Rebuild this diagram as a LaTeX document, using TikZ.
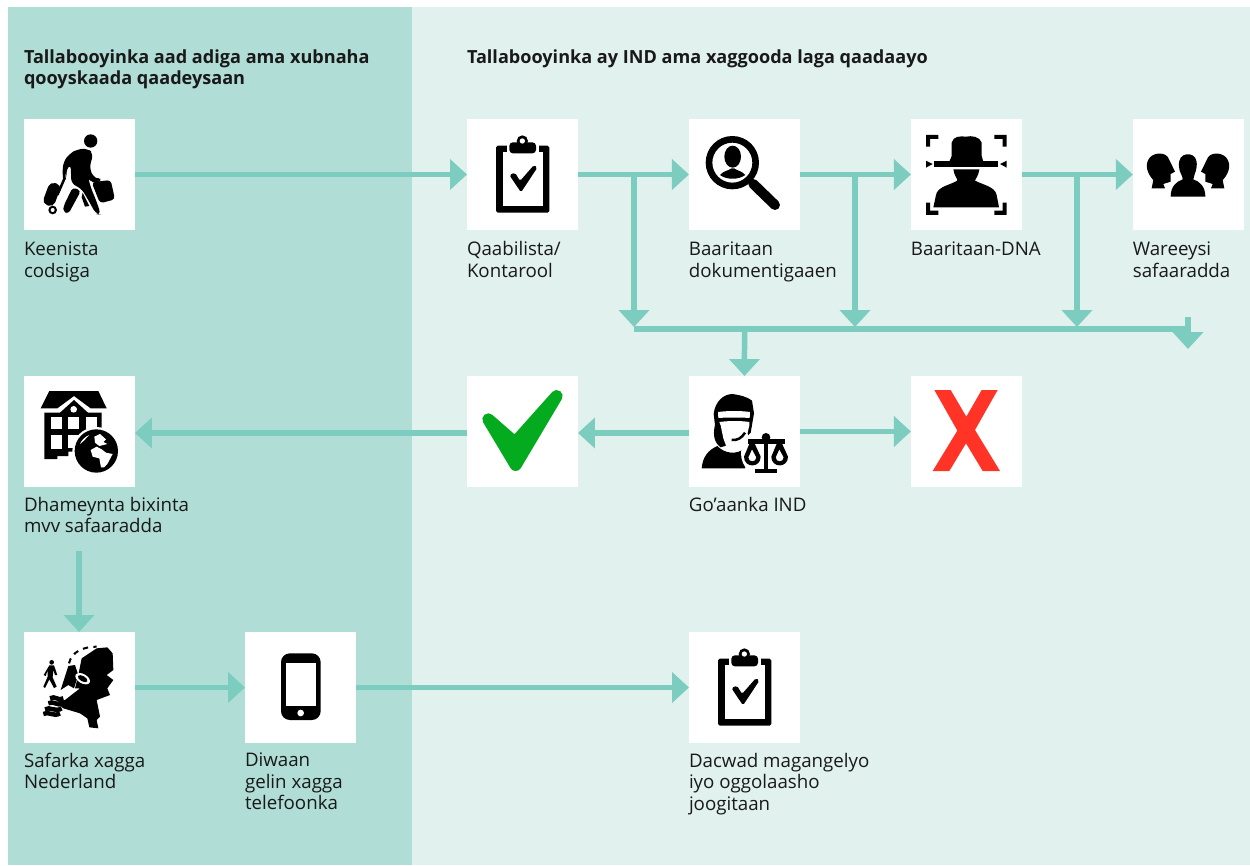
\documentclass[tikz,border=0pt]{standalone}
\usepackage{fontspec}
\setmainfont{Open Sans}
\usetikzlibrary{arrows.meta,positioning}

\definecolor{darkpanel}{HTML}{B0DDD5}
\definecolor{lightpanel}{HTML}{E1F1ED}
\definecolor{flowline}{HTML}{7CCDBF}
\definecolor{okgreen}{HTML}{04AB1E}
\definecolor{nored}{HTML}{FF3427}

\tikzset{
  iconbox/.style={fill=white, inner sep=0, outer sep=0, minimum size=2.22cm},
  steptext/.style={inner sep=0, outer sep=0, align=left, font=\fontsize{10.65}{12.3}\selectfont, text=black!90},
  headtext/.style={inner sep=0, outer sep=0, align=left, font=\fontsize{10.3}{11.9}\selectfont\bfseries, text=black!90},
  flow/.style={draw=flowline, line width=0.11cm, -{Triangle[length=0.34cm,width=0.6cm]}},
  flowbar/.style={draw=flowline, line width=0.11cm}
}

\newcommand{\clipboardicon}[2]{%
  \begin{scope}[shift={(#1,#2)},scale=1/3]
    \fill[rounded corners=1pt] (108,137) rectangle (268,338);
    \fill[white] (140,128) rectangle (236,157);
    \fill[white] (128,157) rectangle (248,317);
    \fill[rounded corners=2pt] (148,127) rectangle (228,160);
    \fill (187,123) circle (17);
    \fill[white] (187,123) circle (8);
    \fill[rounded corners=1pt] (148,225) -- (165,218) -- (180,243) -- (222,195) -- (232,203) -- (183,277) -- cycle;
  \end{scope}}

\begin{document}
\begin{tikzpicture}[x=0.02cm, y=-0.02cm, node distance=2.22cm]
    \useasboundingbox (0,0) rectangle (1250,865);
    \fill[darkpanel] (8,7) rectangle (412,865);
    \fill[lightpanel] (412,7) rectangle (1250,865);

    % boxes, row by row
    \node[iconbox, anchor=north west] (keenista) at (24,119) {};
    \node[iconbox, anchor=north west] (qaabilista) at (467,119) {};
    \node[iconbox] (baaritaan) [right=of qaabilista] {};
    \node[iconbox] (dna) [right=of baaritaan] {};
    \node[iconbox] (wareeysi) [right=of dna] {};

    \node[iconbox, anchor=north west] (dhameynta) at (24,376) {};
    \node[iconbox, anchor=north west] (haa) at (467,376) {};
    \node[iconbox] (goaanka) [right=of haa] {};
    \node[iconbox] (maya) [right=of goaanka] {};

    \node[iconbox, anchor=north west] (safarka) at (24,632) {};
    \node[iconbox, anchor=north west] (diwaan) at (245,632) {};
    \node[iconbox, anchor=north west] (dacwad) at (689,632) {};

    % texts
    \node[headtext, anchor=north west] (headleft) at (24,49.5) {Tallabooyinka aad adiga ama xubnaha\\qooyskaada qaadeysaan};
    \node[headtext, anchor=north west] (headright) at (467,49.5) {Tallabooyinka ay IND ama xaggooda laga qaadaayo};

    \node[steptext] (tkeenista) [below right=0.235cm and 0cm of keenista.south west] {Keenista\\codsiga};
    \node[steptext] (tqaabilista) [below right=0.235cm and 0cm of qaabilista.south west] {Qaabilista/\\Kontarool};
    \node[steptext] (tbaaritaan) [below right=0.235cm and 0cm of baaritaan.south west] {Baaritaan\\dokumentigaaen};
    \node[steptext] (tdna) [below right=0.235cm and 0cm of dna.south west] {Baaritaan-DNA};
    \node[steptext] (twareeysi) [below right=0.235cm and 0cm of wareeysi.south west] {Wareeysi\\safaaradda};
    \node[steptext] (tdhameynta) [below right=0.2cm and 0cm of dhameynta.south west] {Dhameynta bixinta\\mvv safaaradda};
    \node[steptext] (tgoaanka) [below right=0.2cm and 0cm of goaanka.south west] {Go’aanka IND};
    \node[steptext] (tsafarka) [below right=0.2cm and 0cm of safarka.south west] {Safarka xagga\\Nederland};
    \node[steptext] (tdiwaan) [below right=0.2cm and 0cm of diwaan.south west] {Diwaan\\gelin xagga\\telefoonka};
    \node[steptext] (tdacwad) [below right=0.2cm and 0cm of dacwad.south west] {Dacwad magangelyo\\iyo oggolaasho\\joogitaan};

    % junctions
    \coordinate (up1) at (634,175);
    \coordinate (up2) at (855,175);
    \coordinate (up3) at (1077,175);
    \coordinate (low1) at (634,327);
    \coordinate (low2) at (855,327);
    \coordinate (low3) at (1077,327);
    \coordinate (barleft) at (634,329);
    \coordinate (barright) at (1187,329);
    \coordinate (stubtop) at (1188,317);
    \coordinate (stubend) at (1188,349);
    \coordinate (barmid) at (744.5,329);
    \coordinate (mvvfrom) at (79,551);
    \coordinate (mvvto) at (79,632);

    % connectors
    \draw[flow] (keenista) -- (qaabilista);
    \draw[flow] (qaabilista) -- (baaritaan);
    \draw[flow] (baaritaan) -- (dna);
    \draw[flow] (dna) -- (wareeysi);
    \draw[flow] (up1) -- (low1);
    \draw[flow] (up2) -- (low2);
    \draw[flow] (up3) -- (low3);
    \draw[flowbar] (barleft) -- (barright);
    \draw[flow] (stubtop) -- (stubend);
    \draw[flow] (barmid) -- (goaanka);
    \draw[flow] (goaanka) -- (maya);
    \draw[flow] ([yshift=-0.03cm]goaanka.west) -- ([yshift=-0.03cm]haa.east);
    \draw[flow] ([yshift=-0.03cm]haa.west) -- ([yshift=-0.03cm]dhameynta.east);
    \draw[flow] (mvvfrom) -- (mvvto);
    \draw[flow] (safarka) -- (diwaan);
    \draw[flow] (diwaan) -- (dacwad);

    % traveller
    \begin{scope}[shift={(0,100)},scale=1/3]
      \fill (272,123) circle (20);
      \fill[rounded corners=3pt] (232,148) -- (262,145) -- (280,160) -- (268,205) -- (283,235) -- (300,238) -- (297,250) -- (276,250) -- (264,230) -- (272,262) -- (288,300) -- (303,345) -- (288,342) -- (262,295) -- (243,264) -- (214,252) -- (212,192) -- (196,215) -- (200,228) -- (192,248) -- (187,225) -- (190,185) -- (210,160) -- cycle;
      \fill[rounded corners=2pt] (218,262) -- (243,272) -- (205,342) -- (190,335) -- (190,320) -- cycle;
      \fill (248,278) -- (268,318) -- (255,320) -- (245,292) -- cycle;
      \fill[rounded corners=3pt] (150,245) -- (185,255) -- (160,322) -- (126,310) -- cycle;
      \draw[line width=0.05cm] (172,285) -- (195,232);
      \fill (158,330) circle (13);
      \fill[white] (158,330) circle (6);
      \fill[rounded corners=2pt] (275,247) -- (332,240) -- (345,298) -- (300,310) -- cycle;
      \draw[line width=0.04cm] (280,245) .. controls (282,236) and (296,234) .. (300,242);
    \end{scope}

    \clipboardicon{460}{100}
    \clipboardicon{682}{613}

    % magnifier
    \begin{scope}[shift={(460,100)},scale=1/3]
      \fill[even odd rule] (817,188) circle (80) (817,188) circle (60);
      \draw[line width=0.2cm, line cap=round] (880,252) -- (945,315);
      \fill (818,170) ellipse (25 and 33);
      \fill (780,225) .. controls (790,213) and (805,212) .. (815,205) -- (822,205) .. controls (832,212) and (846,213) .. (856,225) .. controls (835,240) and (800,240) .. (780,225) -- cycle;
    \end{scope}

    % face scan
    \begin{scope}[shift={(900,100)},scale=1/3]
      \fill (78,105) -- (115,105) -- (115,117) -- (90,117) -- (90,140) -- (78,140) -- cycle;
      \fill (320,105) -- (283,105) -- (283,117) -- (308,117) -- (308,140) -- (320,140) -- cycle;
      \fill (78,308) -- (90,308) -- (90,332) -- (115,332) -- (115,345) -- (78,345) -- cycle;
      \fill (320,308) -- (308,308) -- (308,332) -- (283,332) -- (283,345) -- (320,345) -- cycle;
      \fill (78,182) -- (98,192) -- (78,203) -- cycle;
      \fill (320,182) -- (300,192) -- (320,203) -- cycle;
      \fill (103,184) rectangle (295,202);
      \fill (148,185) -- (155,168) -- (155,128) .. controls (160,108) and (180,108) .. (198,110) .. controls (215,106) and (240,110) .. (245,128) -- (245,168) -- (250,185) -- cycle;
      \fill (160,208) -- (238,208) .. controls (236,228) and (225,238) .. (225,242) .. controls (250,255) and (285,260) .. (290,285) -- (297,322) -- (100,322) -- (108,285) .. controls (112,260) and (150,255) .. (172,242) .. controls (172,236) and (162,225) .. (160,208) -- cycle;
    \end{scope}

    % three heads
    \begin{scope}[shift={(900,100)},scale=1/3]
      \fill (750,172) .. controls (765,156) and (800,156) .. (807,178) -- (825,215) -- (812,222) -- (812,245) -- (790,252) -- (795,265) -- (755,265) -- (760,240) .. controls (745,225) and (730,195) .. (750,172) -- cycle;
      \fill (978,172) .. controls (963,156) and (928,156) .. (921,178) -- (903,215) -- (916,222) -- (916,245) -- (938,252) -- (933,265) -- (973,265) -- (968,240) .. controls (983,225) and (998,195) .. (978,172) -- cycle;
      \fill (864,163) .. controls (885,163) and (892,178) .. (890,200) .. controls (888,220) and (880,225) .. (880,238) .. controls (900,245) and (916,260) .. (916,290) -- (812,290) .. controls (812,260) and (828,245) .. (848,238) .. controls (848,225) and (838,220) .. (837,200) .. controls (835,178) and (843,163) .. (864,163) -- cycle;
    \end{scope}

    % building with globe
    \begin{scope}[shift={(0,370)},scale=1/3]
      \fill (148,63) -- (295,63) -- (320,115) -- (272,115) -- (222,78) -- (172,115) -- (122,115) -- cycle;
      \fill (133,128) -- (180,128) -- (222,90) -- (264,128) -- (305,128) -- (305,200) -- (225,245) -- (205,245) -- (205,258) -- (172,258) -- (172,267) -- (133,267) -- cycle;
      \fill[white] (221,118) circle (10);
      \fill[white] (152,140) rectangle (187,178);
      \fill[white] (205,140) rectangle (238,178);
      \fill[white] (258,140) rectangle (290,178);
      \fill[white] (152,195) rectangle (187,238);
      \fill[white] (205,195) rectangle (238,235);
      \fill[white] (289,243) circle (72);
      \fill (289,243) circle (65);
      \fill[white] (283,200) -- (300,192) -- (318,208) -- (310,216) -- (322,222) -- (298,228) -- (285,218) -- cycle;
      \fill[white] (272,240) -- (290,230) -- (305,238) -- (318,248) -- (338,252) -- (322,282) -- (312,292) -- (303,292) -- (298,265) -- (278,260) -- cycle;
      \fill[white] (240,222) .. controls (245,210) and (255,200) .. (268,195) .. controls (258,205) and (250,215) .. (240,222) -- cycle;
    \end{scope}

    % green check
    \begin{scope}[shift={(470,380)},scale=1/3]
      \filldraw[okgreen, line width=0.24cm, line join=round] (55,118) -- (135,188) -- (260,48) -- (137,255) -- cycle;
    \end{scope}

    % judge
    \begin{scope}[shift={(680,310)},scale=1/3]
      \fill (122,412) .. controls (98,395) and (100,365) .. (105,345) -- (101,312) .. controls (105,275) and (130,252) .. (158,252) .. controls (180,255) and (205,262) .. (216,272) -- (222,310) -- (216,345) -- (212,368) -- (190,390) -- cycle;
      \fill[white] (114,306) .. controls (145,302) and (180,302) .. (210,306) -- (209,324) .. controls (185,322) and (140,322) .. (115,324) -- cycle;
      \fill[white] (118,336) .. controls (150,332) and (180,332) .. (208,336) -- (208,346) -- (203,368) -- (205,405) -- (160,425) -- (140,412) -- (130,385) -- (122,346) -- cycle;
      \draw[line width=0.05cm] (155,390) .. controls (170,392) and (185,385) .. (195,368);
      \fill (65,475) .. controls (68,440) and (85,420) .. (112,408) .. controls (130,428) and (170,440) .. (200,410) -- (215,410) -- (195,475) -- cycle;
      \fill[white] (255,430) circle (72);
      \fill (258,382) circle (13);
      \fill (251,385) rectangle (265,480);
      \fill (225,476) rectangle (290,488);
      \fill (203,388) rectangle (315,401);
      \fill[even odd rule] (192,440) .. controls (192,475) and (242,475) .. (242,440) -- (220,392) -- (212,392) -- cycle (205,442) .. controls (205,458) and (229,458) .. (229,442) -- (216,418) -- cycle;
      \fill[even odd rule] (274,440) .. controls (274,475) and (324,475) .. (324,440) -- (302,392) -- (294,392) -- cycle (287,442) .. controls (287,458) and (311,458) .. (311,442) -- (298,418) -- cycle;
    \end{scope}

    % red cross
    \begin{scope}[shift={(680,310)},scale=1/3]
      \fill[nored] (763,240) -- (812,240) -- (859,320) -- (905,240) -- (953,240) -- (885,360) -- (960,483) -- (908,483) -- (858,400) -- (808,483) -- (758,483) -- (832,362) -- cycle;
    \end{scope}

    % netherlands
    \begin{scope}[shift={(0,620)},scale=1/3]
      \fill (245,115) -- (290,85) -- (322,82) -- (338,100) -- (340,150) -- (320,165) -- (340,180) -- (322,205) -- (330,225) -- (290,240) -- (300,290) -- (290,300) -- (295,325) -- (268,322) -- (262,295) -- (240,280) -- (190,265) -- (170,245) -- (195,240) -- (240,205) -- (225,205) -- (235,165) -- cycle;
      \fill (205,138) -- (225,135) -- (235,165) -- (222,205) -- (205,195) -- (182,210) -- cycle;
      \fill[white] (248,176) ellipse [x radius=24, y radius=14, rotate=-30];
      \fill (248,176) ellipse [x radius=16, y radius=8, rotate=-30];
      \draw[dashed, line width=0.04cm] (207,130) .. controls (215,95) and (250,80) .. (290,80);
      % walker
      \fill (155,127) circle (7);
      \fill (148,136) -- (162,136) -- (172,165) -- (165,165) -- (160,150) -- (158,172) -- (170,200) -- (162,204) -- (148,178) -- (135,204) -- (130,200) -- (143,170) -- (143,150) -- (137,168) -- (131,165) -- cycle;
      % waves
      \draw[line width=0.09cm] (150,235) .. controls (165,225) and (175,245) .. (190,235);
      \draw[line width=0.09cm] (145,250) .. controls (160,240) and (170,260) .. (190,250);
      \draw[line width=0.09cm] (135,268) .. controls (150,258) and (165,278) .. (185,265);
      \draw[line width=0.09cm] (130,282) .. controls (145,272) and (160,292) .. (180,280);
    \end{scope}

    % phone
    \begin{scope}[shift={(0,620)},scale=1/3]
      \fill[rounded corners=5pt] (843,100) rectangle (962,300);
      \fill[white] (857,128) rectangle (948,258);
      \fill[white] (902,279) circle (10);
    \end{scope}
\end{tikzpicture}
\end{document}
